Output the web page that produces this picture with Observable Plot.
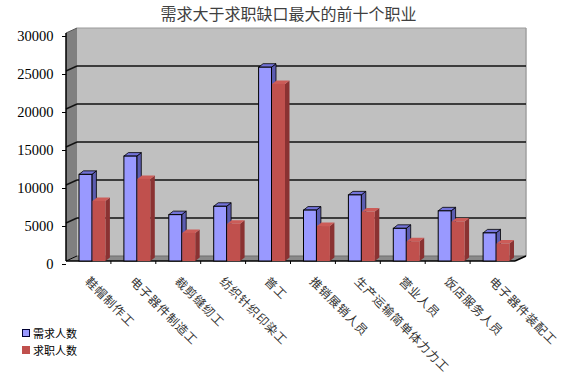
<!DOCTYPE html>
<html>
<head>
<meta charset="utf-8">
<script src="https://cdn.jsdelivr.net/npm/d3@7"></script>
<script src="https://cdn.jsdelivr.net/npm/@observablehq/plot@0.6"></script>
<style>
  html, body { margin: 0; padding: 0; background: #fff; }
  #wrap { position: relative; width: 575px; height: 374px; }
  #title { height: 24px; line-height: 26px; text-align: center; font-family: "Noto Sans CJK SC", sans-serif; font-size: 16px; color: #404040; padding-left: 2px; }
  #legend { position: absolute; left: 22px; top: 325px; font-family: "Noto Sans CJK SC", sans-serif; font-size: 11px; color: #000; line-height: 17px; }
  #legend span.sw { display: inline-block; width: 6px; height: 6px; margin-right: 3px; vertical-align: 1px; }
  #chart g[aria-label="x-axis tick label"] text { letter-spacing: 0.8px; }
</style>
</head>
<body>
<div id="wrap">
  <div id="title"></div>
  <div id="chart"></div>
  <div id="legend"></div>
</div>
<script>
const title = "需求大于求职缺口最大的前十个职业";
const categories = ["鞋帽制作工", "电子器件制造工", "裁剪缝纫工", "纺织针织印染工", "普工", "推销展销人员", "生产运输简单体力力工", "营业人员", "饭店服务人员", "电子器件装配工"];
const seriesNames = ["需求人数", "求职人数"];
const demand = [11400, 13800, 6100, 7200, 25500, 6700, 8700, 4300, 6600, 3700];
const seekers = [7900, 10800, 3700, 4900, 23300, 4600, 6500, 2600, 5200, 2300];
const yTicks = [0, 5000, 10000, 15000, 20000, 25000, 30000];

const blueRows = categories.map((c, i) => ({cat: c, series: seriesNames[0], value: demand[i]}));
const redRows = categories.map((c, i) => ({cat: c, series: seriesNames[1], value: seekers[i]}));

// 3D styling (not data)
const WDX = 11, WDY = -5;     // wall depth offset
const BDX = 4.5, BDY = -3.5;  // bar depth offset
const blueStyle = {front: "#9999ff", top: "#7373d9", side: "#5c5cb0", stroke: "#000"};
const redStyle = {front: "#c0504d", top: "#cc5c58", side: "#8a3232", stroke: "none"};

function pick(args) {
  const scales = args.find(a => a && typeof a.x === "function" && typeof a.y === "function");
  const dims = args.find(a => a && typeof a.width === "number" && typeof a.marginLeft === "number");
  return {scales, dims};
}

function wallsMark(...args) {
  const {scales, dims} = pick(args);
  const x0 = dims.marginLeft, x1 = dims.width - dims.marginRight;
  const yTop = scales.y(yTicks[yTicks.length - 1]), yBase = scales.y(0);
  const g = d3.create("svg:g");
  g.append("rect").attr("x", x0 + WDX).attr("y", yTop + WDY).attr("width", x1 - x0).attr("height", yBase - yTop).attr("fill", "#c0c0c0");
  g.append("polygon").attr("points", [[x0, yTop], [x0 + WDX, yTop + WDY], [x0 + WDX, yBase + WDY], [x0, yBase]].join(" ")).attr("fill", "#808080");
  g.append("polygon").attr("points", [[x0, yBase], [x0 + WDX, yBase + WDY], [x1 + WDX, yBase + WDY], [x1, yBase]].join(" ")).attr("fill", "#8a8a8a");
  g.append("line").attr("x1", x1 + WDX).attr("x2", x1 + WDX).attr("y1", yTop + WDY).attr("y2", yBase + WDY).attr("stroke", "#a0a0a0").attr("stroke-width", 1.5);
  g.append("line").attr("x1", x0 + WDX).attr("x2", x1 + WDX).attr("y1", yTop + WDY).attr("y2", yTop + WDY).attr("stroke", "#9a9a9a").attr("stroke-width", 1);
  for (const t of yTicks.slice(1, -1)) {
    const y = scales.y(t);
    g.append("line").attr("x1", x0 + WDX).attr("x2", x1 + WDX).attr("y1", y + WDY).attr("y2", y + WDY).attr("stroke", "#111").attr("stroke-width", 1.6);
    g.append("line").attr("x1", x0).attr("x2", x0 + WDX).attr("y1", y).attr("y2", y + WDY).attr("stroke", "#111").attr("stroke-width", 1.4);
  }
  g.append("line").attr("x1", x0 + WDX).attr("x2", x1 + WDX).attr("y1", yBase + WDY).attr("y2", yBase + WDY).attr("stroke", "#6e6e6e").attr("stroke-width", 1);
  g.append("line").attr("x1", x0).attr("x2", x0 + WDX).attr("y1", yTop).attr("y2", yTop + WDY).attr("stroke", "#555").attr("stroke-width", 1);
  g.append("line").attr("x1", x0).attr("x2", x1).attr("y1", yBase).attr("y2", yBase).attr("stroke", "#000").attr("stroke-width", 1.5);
  g.append("line").attr("x1", x1).attr("x2", x1 + WDX).attr("y1", yBase).attr("y2", yBase + WDY).attr("stroke", "#000").attr("stroke-width", 1.5);
  g.append("line").attr("x1", x0).attr("x2", x0 + WDX).attr("y1", yBase).attr("y2", yBase + WDY).attr("stroke", "#000").attr("stroke-width", 1);
  g.append("line").attr("x1", x0).attr("x2", x0).attr("y1", yTop).attr("y2", yBase).attr("stroke", "#000").attr("stroke-width", 1.5);
  const bw = (x1 - x0) / categories.length;
  for (let i = 1; i < categories.length; i++) {
    const x = x0 + i * bw;
    g.append("line").attr("x1", x).attr("x2", x).attr("y1", yBase).attr("y2", yBase + 3).attr("stroke", "#000").attr("stroke-width", 1);
  }
  return g.node();
}

function depthMark(rows, insetL, insetR, st) {
  return function(...args) {
    const {scales, dims} = pick(args);
    const x0p = dims.marginLeft, x1p = dims.width - dims.marginRight;
    const bw = (x1p - x0p) / categories.length;
    const yBase = scales.y(0);
    const g = d3.create("svg:g");
    for (const r of rows) {
      const bx0 = scales.x(r.cat) + insetL, bx1 = scales.x(r.cat) + bw - insetR;
      const yt = scales.y(r.value);
      g.append("polygon").attr("points", [[bx1, yt], [bx1 + BDX, yt + BDY], [bx1 + BDX, yBase + BDY], [bx1, yBase]].join(" "))
        .attr("fill", st.side).attr("stroke", st.stroke).attr("stroke-width", 0.8).attr("stroke-linejoin", "round");
      g.append("polygon").attr("points", [[bx0, yt], [bx0 + BDX, yt + BDY], [bx1 + BDX, yt + BDY], [bx1, yt]].join(" "))
        .attr("fill", st.top).attr("stroke", st.stroke).attr("stroke-width", 0.8).attr("stroke-linejoin", "round");
    }
    return g.node();
  };
}

const B_IN = [13, 19], R_IN = [26.5, 5.5];

const chart = Plot.plot({
  width: 575,
  height: 350,
  marginLeft: 66,
  marginRight: 60,
  marginTop: 9,
  marginBottom: 113,
  style: {fontFamily: "'Liberation Serif', serif", fontSize: "14px", color: "#000", background: "transparent", overflow: "visible"},
  x: {domain: categories, paddingInner: 0, paddingOuter: 0, round: false, label: null},
  y: {domain: [0, 30000], label: null},
  marks: [
    wallsMark,
    depthMark(blueRows, B_IN[0], B_IN[1], blueStyle),
    Plot.barY(blueRows, {x: "cat", y: "value", fill: blueStyle.front, stroke: "#000", strokeWidth: 1, insetLeft: B_IN[0], insetRight: B_IN[1]}),
    depthMark(redRows, R_IN[0], R_IN[1], redStyle),
    Plot.barY(redRows, {x: "cat", y: "value", fill: redStyle.front, insetLeft: R_IN[0], insetRight: R_IN[1]}),
    Plot.axisY({ticks: yTicks, tickFormat: d => String(d), tickSize: 4, tickPadding: 9, dy: 3, fontSize: 14.5, fill: "#000", stroke: "#000"}),
    Plot.axisX({tickRotate: 45, tickSize: 0, tickPadding: 18, dx: -2, fontSize: 12, fill: "#333", fontFamily: "'Noto Sans CJK SC', sans-serif"})
  ]
});

document.getElementById("title").textContent = title;
document.getElementById("chart").appendChild(chart);
const leg = document.getElementById("legend");
const legStyles = [{bg: "#9999ff", border: "1px solid #000033"}, {bg: "#c0504d", border: "1px solid #c0504d"}];
seriesNames.forEach((s, i) => {
  const div = document.createElement("div");
  const sw = document.createElement("span");
  sw.className = "sw";
  sw.style.background = legStyles[i].bg;
  sw.style.border = legStyles[i].border;
  div.appendChild(sw);
  div.appendChild(document.createTextNode(s));
  leg.appendChild(div);
});
</script>
</body>
</html>
